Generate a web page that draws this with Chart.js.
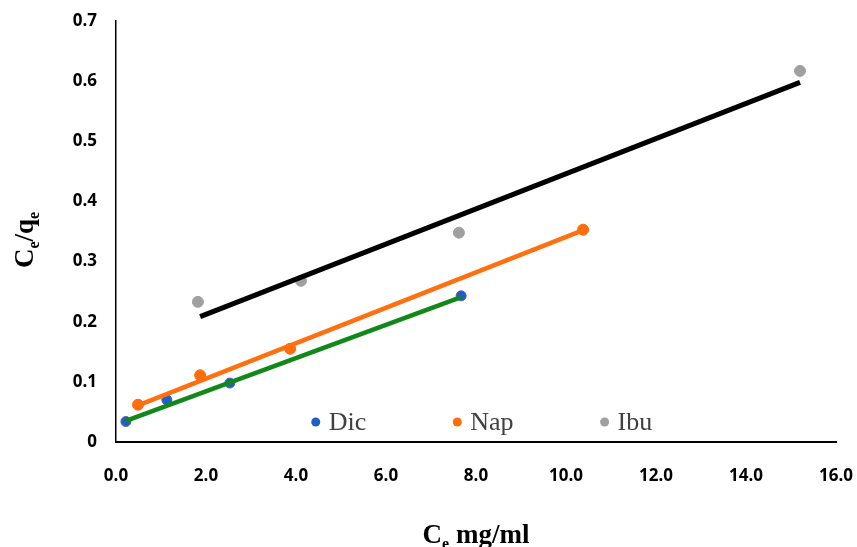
<!DOCTYPE html>
<html>
<head>
<meta charset="utf-8">
<script src="https://cdn.jsdelivr.net/npm/chart.js@4.4.1/dist/chart.umd.min.js"></script>
<style>
  html, body { margin: 0; padding: 0; background: #fff; }
  #wrap { width: 857px; height: 547px; }
</style>
</head>
<body>
<div id="wrap"><canvas id="chart"></canvas></div>
<script>
// measured points (Ce, Ce/qe)
const dicX = [0.22, 1.13, 2.53, 7.67];
const dicY = [0.034, 0.070, 0.098, 0.243];
const napX = [0.49, 1.87, 3.87, 10.38];
const napY = [0.062, 0.111, 0.155, 0.353];
const ibuX = [1.82, 4.11, 7.62, 15.2];
const ibuY = [0.233, 0.268, 0.348, 0.617];

// trend line end points as drawn
const dicFitX = [0.22, 7.67];
const dicFitY = [0.035, 0.241];
const napFitX = [0.49, 10.37];
const napFitY = [0.061, 0.352];
const ibuFitX = [1.87, 15.2];
const ibuFitY = [0.2085, 0.598];

const seriesNames = ['Dic', 'Nap', 'Ibu'];
const xTicks = [0, 2, 4, 6, 8, 10, 12, 14, 16];
const yTicks = [0, 0.1, 0.2, 0.3, 0.4, 0.5, 0.6, 0.7];

function pts(xs, ys) {
  return xs.map((x, i) => ({ x: x, y: ys[i] }));
}

// legend drawn inside the plot area, above the x axis
const innerLegend = {
  id: 'innerLegend',
  afterDatasetsDraw(chart) {
    const ctx = chart.ctx;
    const area = chart.chartArea;
    const items = chart.data.datasets.filter(d => seriesNames.includes(d.label));
    ctx.save();
    ctx.font = '26px "Liberation Serif", serif';
    ctx.textBaseline = 'middle';
    const gap = 87, mark = 17;
    let total = 0;
    items.forEach((d, i) => {
      total += mark + ctx.measureText(d.label).width + (i < items.length - 1 ? gap : 0);
    });
    let x = (area.left + area.right) / 2 + 6 - total / 2;
    const y = area.bottom - 20;
    items.forEach(d => {
      ctx.beginPath();
      ctx.arc(x + 4, y, 4.5, 0, Math.PI * 2);
      ctx.fillStyle = d.backgroundColor;
      ctx.fill();
      ctx.fillStyle = '#404040';
      ctx.textAlign = 'left';
      ctx.fillText(d.label, x + mark, y + 1);
      x += mark + ctx.measureText(d.label).width + gap;
    });
    ctx.restore();
  }
};

// axis titles with subscript e
const bigFont = 'bold 27px "Liberation Serif", serif';
const subFont = 'bold 16px "Liberation Serif", serif';

function drawSub(ctx, parts, x, y) {
  // parts: [text, isSub]
  let w = 0;
  parts.forEach(p => {
    ctx.font = p[1] ? subFont : bigFont;
    w += ctx.measureText(p[0]).width;
  });
  let cx = x - w / 2;
  parts.forEach(p => {
    ctx.font = p[1] ? subFont : bigFont;
    ctx.fillText(p[0], cx, p[1] ? y + 6 : y);
    cx += ctx.measureText(p[0]).width;
  });
}

const axisTitles = {
  id: 'axisTitles',
  afterDraw(chart) {
    const ctx = chart.ctx;
    const area = chart.chartArea;
    ctx.save();
    ctx.fillStyle = '#000';
    ctx.textAlign = 'left';
    ctx.textBaseline = 'alphabetic';
    drawSub(ctx, [['C', false], ['e', true], [' mg/ml', false]], (area.left + area.right) / 2, 543);
    ctx.translate(33, 240);
    ctx.rotate(-Math.PI / 2);
    drawSub(ctx, [['C', false], ['e', true], ['/q', false], ['e', true]], 0, 0);
    ctx.restore();
  }
};

const tickFont = { family: '"Open Sans", sans-serif', size: 17, weight: 'bold' };

new Chart(document.getElementById('chart'), {
  type: 'scatter',
  data: {
    datasets: [
      {
        label: 'Dic fit',
        data: pts(dicFitX, dicFitY),
        showLine: true,
        borderColor: '#11891a',
        borderWidth: 4.5,
        pointRadius: 0,
      },
      {
        label: 'Nap fit',
        data: pts(napFitX, napFitY),
        showLine: true,
        borderColor: '#ff7010',
        borderWidth: 4.5,
        pointRadius: 0,
      },
      {
        label: 'Ibu fit',
        data: pts(ibuFitX, ibuFitY),
        showLine: true,
        borderColor: '#000000',
        borderWidth: 5,
        pointRadius: 0,
      },
      {
        label: 'Dic',
        data: pts(dicX, dicY),
        backgroundColor: '#1c5fc8',
        borderColor: '#5a5fa6',
        borderWidth: 1,
        pointRadius: 5,
      },
      {
        label: 'Nap',
        data: pts(napX, napY),
        backgroundColor: '#ff6c0a',
        borderColor: '#ff6c0a',
        borderWidth: 1,
        pointRadius: 5.5,
      },
      {
        label: 'Ibu',
        data: pts(ibuX, ibuY),
        backgroundColor: '#a0a0a0',
        borderColor: '#a0a0a0',
        borderWidth: 1,
        pointRadius: 5.5,
      },
    ],
  },
  options: {
    responsive: true,
    maintainAspectRatio: false,
    animation: false,
    layout: { padding: { top: 21, right: 21, left: 0, bottom: 0 } },
    scales: {
      x: {
        type: 'linear',
        min: 0,
        max: 16,
        afterBuildTicks: s => { s.ticks = xTicks.map(v => ({ value: v })); },
        afterFit: s => {
          s.height = 105;
          s.paddingLeft = 0;
          s.paddingRight = 0;
        },
        grid: { display: false, drawTicks: false },
        border: { color: '#000', width: 2 },
        ticks: {
          padding: 24,
          color: '#000',
          font: tickFont,
          maxRotation: 0,
          callback: v => v.toFixed(1),
        },
      },
      y: {
        min: 0,
        max: 0.7,
        afterBuildTicks: s => { s.ticks = yTicks.map(v => ({ value: v })); },
        afterFit: s => {
          s.width = 116;
          s.paddingTop = 0;
          s.paddingBottom = 0;
        },
        grid: { display: false, drawTicks: false },
        border: { color: '#000', width: 1.5 },
        ticks: {
          padding: 19,
          color: '#000',
          font: tickFont,
          callback: v => (v === 0 ? '0' : v.toFixed(1)),
        },
      },
    },
    plugins: {
      legend: { display: false },
      tooltip: { enabled: false },
    },
  },
  plugins: [innerLegend, axisTitles],
});
</script>
</body>
</html>
